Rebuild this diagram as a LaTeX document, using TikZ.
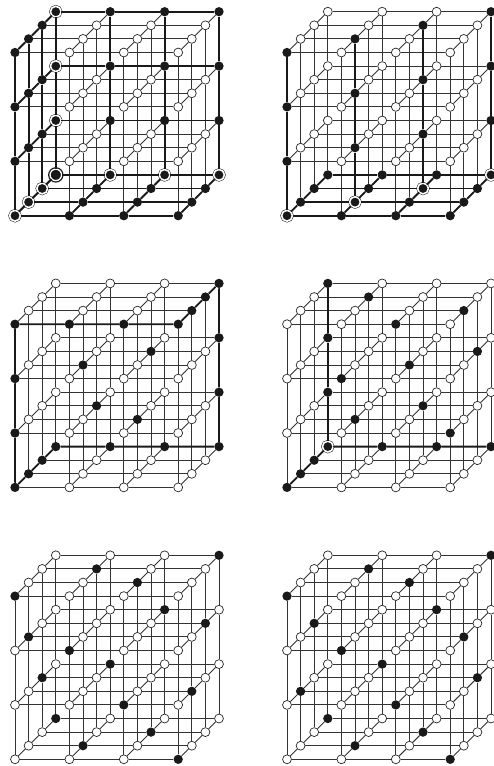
\documentclass[tikz,border=0pt]{standalone}
\usepackage{xstring}

\tikzset{
    whitept/.style={circle, draw=black!85, line width=0.7bp, fill=white, inner sep=0pt, minimum size=8.9bp},
    blackpt/.style={circle, fill=black!90, inner sep=0pt, minimum size=9.3bp},
    ringpt/.style={circle, fill=black!90, draw=black!90, double=white, line width=0.5bp, double distance=1.6bp, inner sep=0pt, minimum size=10.8bp},
    bigringpt/.style={circle, fill=black!90, draw=black!90, double=white, line width=1.3bp, double distance=1.3bp, inner sep=0pt, minimum size=11.5bp},
    gridedge/.style={draw=black!80, line width=0.9bp},
    thickedge/.style={draw=black!90, line width=1.8bp}
}

% #1 name, #2 #3 front bottom left corner, #4 black points, #5 ringed points, #6 large ringed points
\newcommand{\cubegrid}[6]{
    \foreach \i in {0,...,3} \foreach \j in {0,...,3} \foreach \k in {0,...,3} {
        \def\ptkind{whitept}
        \IfSubStr{,#4,}{,\i\j\k,}{\def\ptkind{blackpt}}{}
        \IfSubStr{,#5,}{,\i\j\k,}{\def\ptkind{ringpt}}{}
        \IfSubStr{,#6,}{,\i\j\k,}{\def\ptkind{bigringpt}}{}
        \node[\ptkind] (#1-\i\j\k) at ({#2+54.4*\i+13.6*\k},{#3-54.4*\j-13.6*\k}) {};
    }
    % Lines of the grid along the three directions
    \foreach \u in {0,...,3} \foreach \v in {0,...,3} {
        \draw[gridedge] (#1-0\u\v) -- (#1-1\u\v) -- (#1-2\u\v) -- (#1-3\u\v);
        \draw[gridedge] (#1-\u0\v) -- (#1-\u1\v) -- (#1-\u2\v) -- (#1-\u3\v);
        \draw[gridedge] (#1-\u\v0) -- (#1-\u\v1) -- (#1-\u\v2) -- (#1-\u\v3);
    }
}

\begin{document}
\begin{tikzpicture}[x=1bp, y=-1bp]
    \useasboundingbox (0,0) rectangle (494,766);

    % Top left cube, three faces
    \cubegrid{a}{15}{215.7}
        {000,001,002,003,010,011,012,013,020,021,022,023,030,031,032,033,100,101,102,103,200,201,202,203,300,301,302,303,113,123,133,213,223,233,313,323,333}
        {000,001,002,013,023,033,103,203,303}{003}
    \foreach \u in {0,...,3} {
        \draw[thickedge] (a-0\u0) -- (a-0\u1) -- (a-0\u2) -- (a-0\u3);
        \draw[thickedge] (a-00\u) -- (a-01\u) -- (a-02\u) -- (a-03\u);
        \draw[thickedge] (a-\u00) -- (a-\u01) -- (a-\u02) -- (a-\u03);
        \draw[thickedge] (a-00\u) -- (a-10\u) -- (a-20\u) -- (a-30\u);
        \draw[thickedge] (a-\u03) -- (a-\u13) -- (a-\u23) -- (a-\u33);
        \draw[thickedge] (a-0\u3) -- (a-1\u3) -- (a-2\u3) -- (a-3\u3);
    }

    % Top right cube, bottom face and diagonal plane
    \cubegrid{b}{287}{215.7}
        {000,001,002,003,100,101,102,103,200,201,202,203,300,301,302,303,010,020,030,111,121,131,212,222,232,313,323,333}
        {000,101,202,303}{}
    \foreach \u in {0,...,3} {
        \draw[thickedge] (b-00\u) -- (b-10\u) -- (b-20\u) -- (b-30\u);
        \draw[thickedge] (b-\u00) -- (b-\u01) -- (b-\u02) -- (b-\u03);
        \draw[thickedge] (b-\u0\u) -- (b-\u1\u) -- (b-\u2\u) -- (b-\u3\u);
    }

    % Middle left cube, closed path round the edges
    \cubegrid{c}{15}{487.4}
        {000,001,002,003,103,203,303,313,323,333,332,331,330,230,130,030,020,010,121,222,112,211}
        {}{}
    \draw[thickedge] (c-000) -- (c-001) -- (c-002) -- (c-003) -- (c-103) -- (c-203) -- (c-303)
        -- (c-313) -- (c-323) -- (c-333) -- (c-332) -- (c-331) -- (c-330)
        -- (c-230) -- (c-130) -- (c-030) -- (c-020) -- (c-010) -- (c-000);

    % Middle right cube, three edges from one corner
    \cubegrid{d}{287}{487.4}
        {000,001,002,003,103,203,303,013,023,033,132,230,331,322,221,120,212,111,310}
        {003}{}
    \draw[thickedge] (d-000) -- (d-001) -- (d-002) -- (d-003) -- (d-103) -- (d-203) -- (d-303);
    \draw[thickedge] (d-003) -- (d-013) -- (d-023) -- (d-033);

    % Bottom cubes, scattered points only
    \cubegrid{e}{15}{759.3}
        {030,132,231,333,223,322,021,120,113,012,311,210,003,202,101,300}
        {}{}
    \cubegrid{f}{287}{759.3}
        {030,132,231,333,223,022,321,120,113,312,011,210,003,202,101,300}
        {}{}
\end{tikzpicture}
\end{document}
